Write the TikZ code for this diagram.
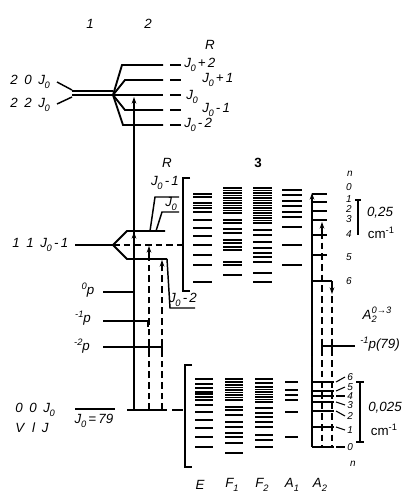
\documentclass[tikz,border=0pt]{standalone}
\usepackage{fontspec}
\setmainfont{Liberation Sans}
\usetikzlibrary{arrows.meta}
\newcommand\lo[1]{\raisebox{-0.5ex}{\scriptsize #1}}
\newcommand\hi[1]{\raisebox{0.8ex}{\scriptsize #1}}
\newcommand\Jo{J\kern-0.3pt\lo{0}}

\begin{document}
\begin{tikzpicture}[x=0.75pt, y=-0.75pt,
    lbl/.style={font=\fontsize{10}{12}\selectfont\itshape, inner sep=0pt},
    sml/.style={font=\fontsize{7.5}{9}\selectfont\itshape, inner sep=0pt},
    lev/.style={line width=1.4pt},
    spine/.style={line width=2pt},
    dsh/.style={line width=1.2pt, dash pattern=on 5pt off 3pt},
    ln/.style={line width=1.1pt},
    tip/.style={-{Stealth[length=5pt,width=3.5pt]}}
]
\useasboundingbox (0,0) rectangle (405,496);

\node[lbl] (c1) at (90,24) {1};
\node[lbl] (c2) at (148,24) {2};
\node[lbl] (rtop) at (210,45) {R};

% upper state
\node[lbl, anchor=west] (s20) at (10,82) {2\enspace 0\enspace \Jo};
\node[lbl, anchor=west] (s22) at (10,105) {2\enspace 2\enspace \Jo};
\draw[ln] (57,82) -- (72,90);
\draw[ln] (57,104) -- (72,97);
\draw[lev] (72,91) -- (113,91);
\draw[lev] (72,95) -- (163,95);
\foreach \y/\x in {65/122, 80/125, 110/125, 125/123}
    \draw[lev] (113,95) -- (\x,\y) -- (163,\y);
\foreach \y in {65,80,95,110,125}
    \draw[lev] (170,\y) -- (181,\y);
\node[lbl, anchor=west] (r2) at (184,65) {\Jo\,+\,2};
\node[lbl, anchor=west] (r1) at (202,80) {\Jo\,+\,1};
\node[lbl, anchor=west] (r0) at (186,97) {\Jo};
\node[lbl, anchor=west] (rm1) at (202,110) {\Jo\,-\,1};
\node[lbl, anchor=west] (rm2) at (184,125) {\Jo\,-\,2};

\draw[spine, tip] (134,410) -- (134,97);
\draw[spine, tip] (134,250) -- (134,232);

% middle state
\node[lbl] (rmid) at (167,163) {R};
\node[lbl] (jm1) at (165,183) {\Jo\,-\,1};
\node[lbl] (jm0) at (171,204) {\Jo};
\node[lbl] (jm2) at (183,300) {\Jo\,-\,2};
\node[lbl, anchor=west] (s11) at (12,245) {1\enspace 1\enspace \Jo\,-\,1};
\draw[lev] (75,245) -- (113,245);
\draw[lev] (165,231) -- (127,231) -- (113,245) -- (127,259) -- (167,259);
\draw[dsh] (113,245) -- (183,245);
\draw[ln] (150,231) -- (155,197) -- (179,197);
\draw[ln] (156,231) -- (162,212) -- (179,212);
\draw[ln] (167,259) -- (170,308) -- (195,308);
\draw[ln] (190,178) -- (183,178) -- (183,291) -- (190,291);

\draw[dsh] (149,410) -- (149,252);
\draw[ln, tip] (149,254) -- (149,246);
\draw[dsh] (162,410) -- (162,267);
\draw[ln, tip] (162,268) -- (162,260);

\node[lbl] (p0) at (88,290) {\hi{0}p};
\node[lbl] (p1) at (83,318) {\hi{-1}p};
\node[lbl] (p2) at (82,346) {\hi{-2}p};
\draw[lev] (103,292) -- (134,292);
\draw[lev] (103,321) -- (148,321) -- (148,327);
\draw[lev] (103,347) -- (162,347) -- (162,353);
\draw[lev] (149,347) -- (149,353);

% ground state
\node[lbl, anchor=west] (s00) at (15,410) {0\enspace 0\enspace \Jo};
\node[lbl, anchor=west] (svlj) at (15,428) {V\enspace\kern1pt l\enspace J};
\node[lbl] (j79) at (94,421) {\Jo\,=\,79};
\draw[lev] (75,409) -- (115,409);
\draw[lev] (127,410) -- (167,410);
\draw[lev] (172,410) -- (183,410);
\draw[ln] (192,365) -- (185,365) -- (185,467) -- (192,467);

% spectra
\node[lbl, font=\fontsize{10}{12}\selectfont\bfseries] (g3) at (258,163) {3};
\foreach \y in {194,197,203,205.5,208,212,220,228,236,245,255,265,282}
    \draw[ln] (193,\y) -- (212,\y);
\foreach \y in {188,190.5,...,213,220,223,229,233,240,243,247,250,262,265,275}
    \draw[ln] (223,\y) -- (242,\y);
\foreach \y in {188,190.5,...,223,230,235,242,248,253,257,262,273,282}
    \draw[ln] (253,\y) -- (272,\y);
\foreach \y in {190,195,201,206,212,217,227,245,265}
    \draw[ln] (282,\y) -- (302,\y);
\foreach \y in {379,384,388,392,394,397,400,405,412,420,428,437,447}
    \draw[ln] (195,\y) -- (213,\y);
\foreach \y in {379,382,385,387.5,...,402,407,410,415,422,427,433,437,443,453}
    \draw[ln] (225,\y) -- (243,\y);
\foreach \y in {379,383,387,389.5,...,403,408,413,417,422,427,435,440,447}
    \draw[ln] (255,\y) -- (273,\y);
\foreach \y in {382,390,395,400,412,437}
    \draw[ln] (285,\y) -- (298,\y);

% A2 branch
\draw[spine, tip] (312,447) -- (312,193);
\foreach \y in {194,202,211,220,235,255}
    \draw[lev] (312,\y) -- (327,\y);
\draw[lev] (312,281) -- (332,281);
\draw[ln, tip] (332,281) -- (332,294);
\draw[dsh] (332,296) -- (332,447);
\draw[ln, tip] (322,232) -- (322,222);
\draw[dsh] (322,232) -- (322,447);
\draw[lev] (322,351) -- (322,346) -- (355,346);
\draw[lev] (332,346) -- (332,351);
\foreach \y in {382,391,396,402,411,427,447}
    \draw[lev] (312,\y) -- (334,\y);

\node[sml] (ntop) at (350,174) {n};
\foreach \y/\n in {187/0,199/1,209/2,219/3,234/4,257/5,281/6}
    \node[sml] (u\n) at (349,\y) {\n};
\foreach \y/\t/\n in {382/377/6,391/387/5,396/396/4,402/405/3,411/416/2,427/430/1,447/447/0}{
    \draw[line width=0.8pt] (336,\y) -- (345,\t);
    \node[sml, anchor=west] (l\n) at (347,\t) {\n};
}
\node[sml] (nbot) at (353,464) {n};

\draw[ln] (355,200) -- (361,200);
\draw[ln] (358,200) -- (358,235);
\node[lbl] (s25) at (380,213) {0,25};
\node[lbl, font=\fontsize{10}{12}\selectfont] (cm1) at (381,233) {cm\hi{-1}};
\draw[ln] (356,382) -- (364,382);
\draw[ln] (360,382) -- (360,442);
\draw[ln] (356,442) -- (364,442);
\node[lbl] (s025) at (385,408) {0,025};
\node[lbl, font=\fontsize{10}{12}\selectfont] (cm2) at (384,430) {cm\hi{-1}};

\node[lbl] (a03) at (377,315) {A\rlap{\lo{2}}\hi{0→3}};
\node[lbl] (p79) at (380,344) {\hi{-1}p(79)};

\foreach \x/\t in {200/E, 232/F\lo{1}, 262/F\lo{2}, 292/A\lo{1}, 320/A\lo{2}}
    \node[lbl] (b\x) at (\x,485) {\t};
\end{tikzpicture}
\end{document}
